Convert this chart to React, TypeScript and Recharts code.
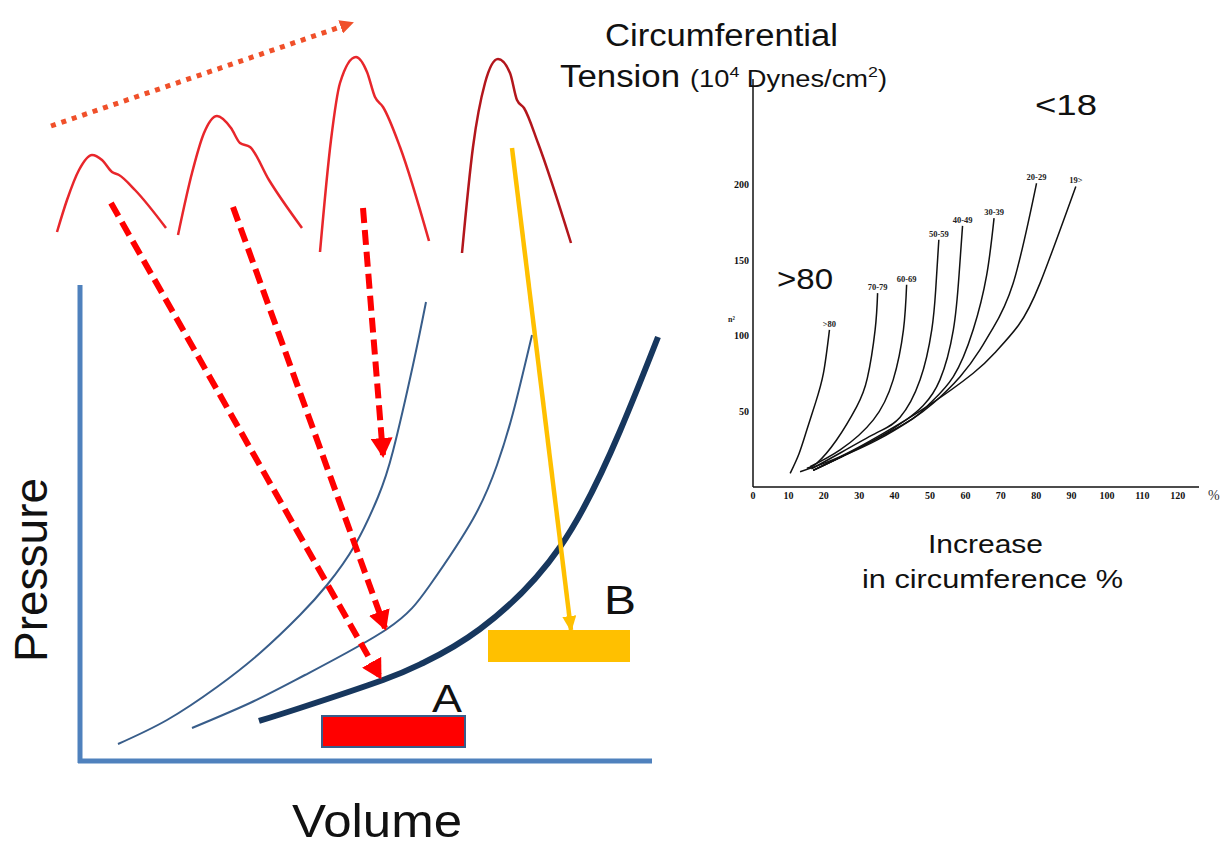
import React from 'react';
import { ComposedChart, LineChart, Line, XAxis, YAxis, ReferenceLine, ReferenceArea, LabelList } from 'recharts';

// ---- left panel: pressure / volume sketch (arbitrary units) ----
const wave1 = [
  { v: -2.3, p: 52.9 }, { v: -1.3, p: 56.1 }, { v: -0.1, p: 59.1 }, { v: 1.2, p: 60.6 }, { v: 2.2, p: 60.1 },
  { v: 3.2, p: 58.9 }, { v: 3.9, p: 58.6 }, { v: 5.5, p: 57.1 }, { v: 8.6, p: 53.3 },
];
const wave2 = [
  { v: 9.8, p: 52.6 }, { v: 11.2, p: 58.8 }, { v: 12.4, p: 62.8 }, { v: 13.7, p: 64.5 }, { v: 15.1, p: 63.3 },
  { v: 16.0, p: 61.8 }, { v: 17.0, p: 61.4 }, { v: 18.9, p: 58.1 }, { v: 22.2, p: 53.3 },
];
const wave3 = [
  { v: 24.0, p: 50.9 }, { v: 25.1, p: 62.1 }, { v: 26.0, p: 67.8 }, { v: 27.6, p: 70.4 }, { v: 28.7, p: 68.9 },
  { v: 29.5, p: 66.4 }, { v: 30.3, p: 65.4 }, { v: 32.0, p: 61.4 }, { v: 34.9, p: 52.0 },
];
const wave4 = [
  { v: 38.2, p: 50.8 }, { v: 39.3, p: 61.4 }, { v: 40.5, p: 67.8 }, { v: 41.8, p: 70.2 }, { v: 43.0, p: 68.8 },
  { v: 43.7, p: 66.1 }, { v: 44.4, p: 65.3 }, { v: 45.8, p: 61.8 }, { v: 49.1, p: 51.8 },
];

const pvCurve1 = [
  { v: 3.8, p: 1.7 }, { v: 8.7, p: 4.1 }, { v: 13.7, p: 7.4 }, { v: 18.0, p: 10.8 }, { v: 22.0, p: 14.6 },
  { v: 24.7, p: 17.6 }, { v: 27.5, p: 21.6 }, { v: 29.8, p: 26.4 }, { v: 31.3, p: 31.0 }, { v: 33.3, p: 39.6 },
  { v: 34.6, p: 45.9 },
];
const pvCurve2 = [
  { v: 11.2, p: 3.3 }, { v: 17.0, p: 5.8 }, { v: 22.5, p: 8.6 }, { v: 30.7, p: 13.2 }, { v: 35.0, p: 17.6 },
  { v: 39.3, p: 24.2 }, { v: 41.7, p: 29.6 }, { v: 43.3, p: 34.8 }, { v: 45.2, p: 42.6 },
];
const pvCurve3 = [
  { v: 17.9, p: 4.0 }, { v: 22.0, p: 5.3 }, { v: 30.3, p: 8.1 }, { v: 34.3, p: 9.8 }, { v: 40.0, p: 13.2 },
  { v: 48.0, p: 21.4 }, { v: 54.0, p: 33.0 }, { v: 57.8, p: 42.4 },
];

const arrow1 = [{ v: 3.1, p: 55.8 }, { v: 30.0, p: 8.4 }];
const arrow2 = [{ v: 15.3, p: 55.4 }, { v: 30.5, p: 13.3 }];
const arrow3 = [{ v: 28.3, p: 55.3 }, { v: 30.3, p: 30.6 }];
const arrowYellow = [{ v: 43.2, p: 61.3 }, { v: 49.1, p: 13.1 }];
const arrowTrend = [{ v: -2.9, p: 63.5 }, { v: 27.2, p: 73.8 }];

const axisV = [{ v: 0, p: -0.2 }, { v: 0, p: 47.6 }];
const axisH = [{ v: -0.2, p: 0 }, { v: 57.2, p: 0 }];

const boxA = { v1: 24.2, v2: 38.5, p1: 1.4, p2: 4.5 };
const boxB = { v1: 40.8, v2: 55.0, p1: 9.9, p2: 13.1 };

// ---- right panel: tension vs increase in circumference ----
const ageOver80 = [
  { x: 10.5, y: 9 }, { x: 13, y: 22 }, { x: 15.2, y: 37.7 }, { x: 17.7, y: 56 }, { x: 19.9, y: 75.3 }, { x: 21.6, y: 104 },
];
const age70 = [
  { x: 15.2, y: 12.4 }, { x: 18, y: 15.7 }, { x: 23.6, y: 31.1 }, { x: 29.3, y: 53.2 }, { x: 32.3, y: 72 },
  { x: 34.5, y: 104 }, { x: 35.2, y: 128.3 },
];
const age60 = [
  { x: 16.1, y: 13.4 }, { x: 24.6, y: 24.5 }, { x: 34, y: 44.4 }, { x: 39.6, y: 70.9 }, { x: 42.5, y: 104 },
  { x: 43.4, y: 133.8 },
];
const age50 = [
  { x: 16.5, y: 12 }, { x: 25, y: 23 }, { x: 35, y: 36 }, { x: 41.5, y: 46 }, { x: 47.2, y: 70.9 },
  { x: 50.5, y: 104 }, { x: 51.6, y: 130 }, { x: 52.5, y: 163.6 },
];
const age40 = [
  { x: 17, y: 11 }, { x: 25, y: 20 }, { x: 35, y: 32 }, { x: 43, y: 44 }, { x: 48.1, y: 54 }, { x: 52.8, y: 70.9 },
  { x: 56.6, y: 104 }, { x: 58.2, y: 140 }, { x: 59.2, y: 172.8 },
];
const age30 = [
  { x: 17, y: 11 }, { x: 25, y: 20 }, { x: 35, y: 32 }, { x: 45, y: 45 }, { x: 50, y: 55.4 }, { x: 56.6, y: 73 },
  { x: 62.2, y: 104 }, { x: 66, y: 140 }, { x: 68.1, y: 177.9 },
];
const age20 = [
  { x: 17, y: 11 }, { x: 25, y: 20 }, { x: 35, y: 31 }, { x: 45, y: 45 }, { x: 50.9, y: 55.4 }, { x: 58.5, y: 73 },
  { x: 64.1, y: 90.7 }, { x: 67.5, y: 104 }, { x: 73.5, y: 134.9 }, { x: 80.1, y: 201 },
];
const ageUnder19 = [
  { x: 13.3, y: 10.1 }, { x: 24.6, y: 20.1 }, { x: 36.8, y: 35.5 }, { x: 49.1, y: 53.2 }, { x: 62.2, y: 75.3 },
  { x: 68.8, y: 90 }, { x: 75, y: 107 }, { x: 81.1, y: 134.9 }, { x: 91.2, y: 198.9 },
];

const ageSeries = [
  { name: '>80', data: ageOver80 },
  { name: '70-79', data: age70 },
  { name: '60-69', data: age60 },
  { name: '50-59', data: age50 },
  { name: '40-49', data: age40 },
  { name: '30-39', data: age30 },
  { name: '20-29', data: age20 },
  { name: '19>', data: ageUnder19 },
];

const xTicks = [0, 10, 20, 30, 40, 50, 60, 70, 80, 90, 100, 110, 120];
const yTicks = [50, 100, 150, 200];

const SANS = '"Liberation Sans", Arial, sans-serif';
const SERIF = '"Liberation Serif", "Times New Roman", serif';

const AXIS_BLUE = '#4f81bd';
const CURVE_BLUE = '#385d8a';
const NAVY = '#17375e';
const RED = '#ff0000';
const GOLD = '#ffc000';

const topLabel = (name: string, count: number) => (props: any) => {
  if (props.index !== count - 1) return null;
  return (
    <text x={props.x} y={props.y - 3} textAnchor="middle" fontFamily={SERIF} fontWeight={700} fontSize={8.5} fill="#222">
      {name}
    </text>
  );
};

function PressureVolume() {
  const thin = { dot: false, activeDot: false, isAnimationActive: false, dataKey: 'p' } as const;
  return (
    <ComposedChart width={700} height={846} margin={{ top: 0, right: 0, bottom: 0, left: 0 }}>
      <defs>
        <marker id="headRed" viewBox="0 0 20 22" refX="17" refY="11" markerWidth="20" markerHeight="22"
          markerUnits="userSpaceOnUse" orient="auto">
          <path d="M0,0 L20,11 L0,22 z" fill={RED} />
        </marker>
        <marker id="headGold" viewBox="0 0 16 14" refX="14" refY="7" markerWidth="16" markerHeight="14"
          markerUnits="userSpaceOnUse" orient="auto">
          <path d="M0,0 L16,7 L0,14 z" fill={GOLD} />
        </marker>
        <marker id="headTrend" viewBox="0 0 14 14" refX="12" refY="7" markerWidth="14" markerHeight="14"
          markerUnits="userSpaceOnUse" orient="auto">
          <path d="M0,0 L14,7 L0,14 z" fill="#f0502a" />
        </marker>
      </defs>
      <XAxis dataKey="v" type="number" domain={[-8, 62]} allowDataOverflow hide />
      <YAxis type="number" domain={[-8.5, 76.1]} allowDataOverflow hide />

      <ReferenceLine segment={[{ x: axisV[0].v, y: axisV[0].p }, { x: axisV[1].v, y: axisV[1].p }]} stroke={AXIS_BLUE} strokeWidth={5} />
      <ReferenceLine segment={[{ x: axisH[0].v, y: axisH[0].p }, { x: axisH[1].v, y: axisH[1].p }]} stroke={AXIS_BLUE} strokeWidth={5} />

      <ReferenceArea x1={boxA.v1} x2={boxA.v2} y1={boxA.p1} y2={boxA.p2} fill={RED} fillOpacity={1} stroke={CURVE_BLUE} strokeWidth={2} />
      <ReferenceArea x1={boxB.v1} x2={boxB.v2} y1={boxB.p1} y2={boxB.p2} fill={GOLD} fillOpacity={1} stroke="none" />

      <Line {...thin} data={wave1} type="monotone" stroke="#e8262b" strokeWidth={2.5} />
      <Line {...thin} data={wave2} type="monotone" stroke="#e8262b" strokeWidth={2.5} />
      <Line {...thin} data={wave3} type="monotone" stroke="#e8262b" strokeWidth={2.5} />
      <Line {...thin} data={wave4} type="monotone" stroke="#b3161c" strokeWidth={2.5} />

      <Line {...thin} data={pvCurve1} type="natural" stroke={CURVE_BLUE} strokeWidth={2} />
      <Line {...thin} data={pvCurve2} type="natural" stroke={CURVE_BLUE} strokeWidth={2} />
      <Line {...thin} data={pvCurve3} type="natural" stroke={NAVY} strokeWidth={6} />

      <Line {...thin} data={arrowTrend} type="linear" stroke="#f0502a" strokeWidth={5} strokeDasharray="5 6" markerEnd="url(#headTrend)" />
      <Line {...thin} data={arrow1} type="linear" stroke={RED} strokeWidth={6} strokeDasharray="15 7" markerEnd="url(#headRed)" />
      <Line {...thin} data={arrow2} type="linear" stroke={RED} strokeWidth={6} strokeDasharray="15 7" markerEnd="url(#headRed)" />
      <Line {...thin} data={arrow3} type="linear" stroke={RED} strokeWidth={6} strokeDasharray="15 7" markerEnd="url(#headRed)" />
      <Line {...thin} data={arrowYellow} type="linear" stroke={GOLD} strokeWidth={4.5} markerEnd="url(#headGold)" />
    </ComposedChart>
  );
}

function TensionChart() {
  const tickStyle = { fontFamily: SERIF, fontWeight: 700, fontSize: 10, fill: '#111' };
  return (
    <LineChart width={525} height={846} margin={{ top: 79, right: 26, bottom: 329, left: 0 }}>
      <XAxis dataKey="x" type="number" domain={[0, 126]} ticks={xTicks} allowDataOverflow
        axisLine={{ stroke: '#111', strokeWidth: 1.5 }} tickLine={false} tickSize={3} tick={tickStyle} height={30} />
      <YAxis type="number" domain={[0, 270]} ticks={yTicks} allowDataOverflow width={53}
        axisLine={{ stroke: '#111', strokeWidth: 1.5 }} tickLine={false} tickSize={2} tick={tickStyle} />
      {ageSeries.map((s) => (
        <Line key={s.name} data={s.data} dataKey="y" type="natural" stroke="#111" strokeWidth={1.5}
          dot={false} activeDot={false} isAnimationActive={false}>
          <LabelList dataKey="y" content={topLabel(s.name, s.data.length)} />
        </Line>
      ))}
    </LineChart>
  );
}

export default function App() {
  return (
    <div style={{ position: 'absolute', left: 0, top: 0, width: 1225, height: 846, background: '#fff', overflow: 'hidden' }}>
      <div style={{ position: 'absolute', left: 0, top: 0 }}>
        <PressureVolume />
      </div>
      <div style={{ position: 'absolute', left: 700, top: 0 }}>
        <TensionChart />
      </div>
      <svg width={1225} height={846} style={{ position: 'absolute', left: 0, top: 0, pointerEvents: 'none' }}>
        <g fontFamily={SANS} fill="#111">
          <text x={605} y={46} fontSize={31} textLength={233} lengthAdjust="spacingAndGlyphs">Circumferential</text>
          <text x={560} y={87} fontSize={31} textLength={120} lengthAdjust="spacingAndGlyphs">Tension</text>
          <text x={690} y={87} fontSize={23} textLength={197} lengthAdjust="spacingAndGlyphs">
            (10<tspan fontSize={15} dy={-10}>4</tspan><tspan dy={10}> Dynes/cm</tspan><tspan fontSize={15} dy={-10}>2</tspan><tspan dy={10}>)</tspan>
          </text>
          <text x={1035} y={115} fontSize={30} textLength={62} lengthAdjust="spacingAndGlyphs">&lt;18</text>
          <text x={777} y={289} fontSize={30} textLength={56} lengthAdjust="spacingAndGlyphs">&gt;80</text>
          <text x={928} y={553} fontSize={25} textLength={115} lengthAdjust="spacingAndGlyphs">Increase</text>
          <text x={862} y={588} fontSize={25} textLength={261} lengthAdjust="spacingAndGlyphs">in circumference %</text>
          <text x={47} y={570} fontSize={46} textAnchor="middle" transform="rotate(-90 47 570)">Pressure</text>
          <text x={292} y={837} fontSize={46} textLength={170} lengthAdjust="spacingAndGlyphs">Volume</text>
          <text x={432} y={712} fontSize={38} textLength={30} lengthAdjust="spacingAndGlyphs">A</text>
          <text x={604} y={614} fontSize={40} textLength={32} lengthAdjust="spacingAndGlyphs">B</text>
        </g>
        <text x={1208} y={500} fontFamily={SERIF} fontSize={14} fill="#333">%</text>
        <text x={728} y={322} fontFamily={SERIF} fontWeight={700} fontSize={8} fill="#222">n²</text>
      </svg>
    </div>
  );
}
